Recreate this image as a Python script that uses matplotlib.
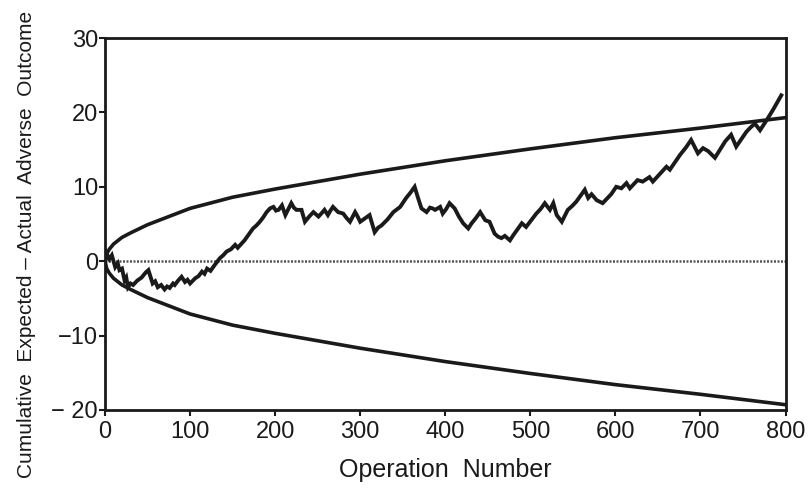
import numpy as np
import matplotlib
matplotlib.use('Agg')
import matplotlib.pyplot as plt

# ################ values
# control limits (upper; the lower one is the mirror image)
limit_n = [0, 2, 5, 10, 20, 30, 50, 75, 100, 150, 200, 250, 300, 400, 500, 600, 700, 800]
limit_v = [0, 1.0, 1.6, 2.3, 3.2, 3.8, 4.9, 6.0, 7.1, 8.6, 9.7, 10.7, 11.7, 13.5, 15.1, 16.6, 17.9, 19.3]

# cumulative expected - actual
walk_n = [0, 2, 5, 8, 12, 15, 17, 20, 23, 25, 27, 30, 33, 38, 43, 48, 51, 56, 59, 62,
          66, 70, 73, 76, 80, 82, 86, 90, 94, 97, 100, 106, 110, 114, 117, 120, 124, 129, 135, 139,
          143, 148, 153, 156, 164, 169, 174, 178, 182, 186, 190, 194, 198, 201, 204, 208, 212, 216, 219, 222,
          225, 231, 235, 240, 245, 251, 255, 258, 262, 265, 268, 274, 280, 284, 288, 294, 297, 300, 306, 311,
          317, 321, 325, 332, 339, 347, 354, 359, 364, 368, 372, 378, 382, 385, 388, 394, 397, 401, 405, 411,
          416, 421, 427, 431, 436, 441, 447, 452, 458, 462, 466, 470, 476, 480, 485, 490, 495, 501, 507, 512,
          517, 523, 527, 531, 537, 544, 549, 554, 559, 564, 568, 572, 578, 585, 590, 595, 601, 607, 613, 617,
          622, 626, 632, 640, 644, 652, 660, 664, 670, 676, 683, 689, 693, 697, 703, 709, 717, 723, 729, 736,
          742, 748, 754, 759, 764, 770, 778, 785, 795]
walk_v = [0, 1.0, 0.3, 0.8, -0.8, -0.3, -1.2, -1.0, -2.6, -2.2, -3.5, -3.0, -3.2, -2.6, -2.2, -1.5, -1.2, -3.0, -2.7, -3.5,
          -3.2, -3.8, -3.4, -3.6, -3.0, -3.2, -2.6, -2.1, -2.8, -2.5, -3.0, -2.3, -2.0, -1.4, -1.7, -1.0, -1.3, -0.5, 0.4, 0.8,
          1.3, 1.6, 2.2, 1.8, 2.8, 3.6, 4.4, 4.8, 5.3, 5.9, 6.6, 7.1, 7.3, 6.8, 6.9, 7.5, 6.2, 7.1, 7.8, 7.2,
          6.9, 6.9, 5.3, 6.0, 6.6, 6.0, 6.5, 6.9, 6.2, 6.8, 7.3, 6.6, 6.4, 5.8, 5.3, 6.6, 6.0, 5.3, 5.8, 6.2,
          3.9, 4.5, 4.8, 5.6, 6.6, 7.3, 8.5, 9.2, 10.0, 8.5, 7.1, 6.6, 7.2, 7.1, 6.9, 7.3, 6.4, 7.0, 7.8, 7.1,
          6.0, 5.1, 4.4, 5.1, 5.8, 6.6, 5.5, 5.3, 3.7, 3.3, 3.1, 3.4, 2.8, 3.5, 4.3, 5.1, 4.6, 5.5, 6.4, 7.0,
          7.8, 6.9, 7.8, 6.2, 5.3, 6.9, 7.4, 8.0, 8.8, 9.6, 8.5, 9.0, 8.2, 7.8, 8.4, 9.0, 10.0, 9.8, 10.5, 9.8,
          10.4, 10.9, 10.7, 11.3, 10.7, 11.7, 12.7, 12.3, 13.3, 14.3, 15.3, 16.3, 15.4, 14.5, 15.2, 14.8, 13.9, 15.0, 16.1, 17.0,
          15.4, 16.4, 17.4, 18.0, 18.5, 17.6, 19.0, 20.3, 22.3]

x_ticks = [0, 100, 200, 300, 400, 500, 600, 700, 800]
y_ticks = [-20, -10, 0, 10, 20, 30]
y_ticklabels = ['\u2212 20', '\u221210', '0', '10', '20', '30']

plt.rcParams['font.family'] = ['Liberation Sans', 'DejaVu Sans']

fig = plt.figure(figsize=(8.09, 4.88), dpi=100)
ax = fig.add_axes([0.1298, 0.160, 0.971 - 0.1298, 0.922 - 0.160])

ax.plot([0, 800], [0, 0], color='#555555', lw=1.8, ls=(0, (0.8, 0.6)))
lim = np.array(limit_v)
ax.plot(limit_n, lim, color='#1a1a1a', lw=2.6)
ax.plot(limit_n, -lim, color='#1a1a1a', lw=2.6)
ax.plot(walk_n, walk_v, color='#1a1a1a', lw=2.8, solid_joinstyle='miter')

ax.set_xlim(0, 800)
ax.set_ylim(-20, 30)
ax.set_xticks(x_ticks)
ax.set_yticks(y_ticks)
ax.set_yticklabels(y_ticklabels)
ax.tick_params(direction='out', length=4, width=1.5, labelsize=17, colors='#1a1a1a')
ax.tick_params(axis='y', pad=1)
ax.tick_params(axis='x', pad=4)
for s in ax.spines.values():
    s.set_linewidth(2)
    s.set_color('#1a1a1a')

ax.set_xlabel('Operation  Number', fontsize=18, color='#1a1a1a', labelpad=11)
ax.set_ylabel('Cumulative  Expected \u2013 Actual  Adverse  Outcome', fontsize=15, color='#1a1a1a')
ax.yaxis.set_label_coords(-0.102, 0.446)

fig.savefig('out.png', dpi=100)
